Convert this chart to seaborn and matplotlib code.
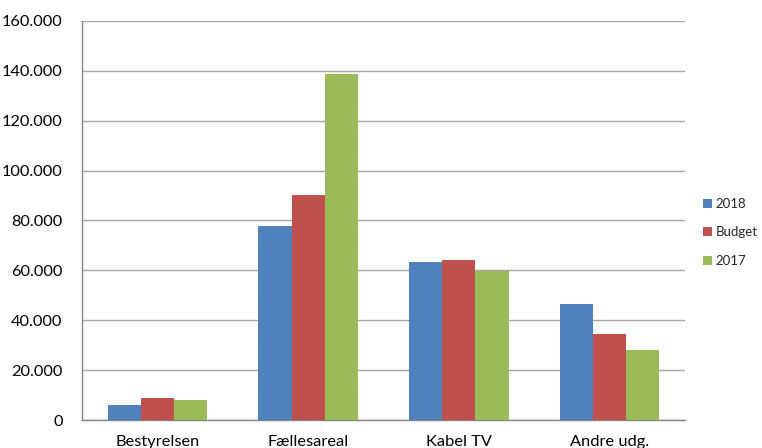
import pandas as pd
import numpy as np
import matplotlib.pyplot as plt
import seaborn as sns
from matplotlib.ticker import FuncFormatter

categories = ['Bestyrelsen', 'Fællesareal', 'Kabel TV', 'Andre udg.']
series = ['2018', 'Budget', '2017']
v2018 = [6000, 77800, 63200, 46500]
budget = [8800, 90100, 64000, 34400]
v2017 = [8000, 138700, 59700, 28100]
colors = ['#4F81BD', '#C0504D', '#9BBB59']

data = pd.DataFrame({
    'kategori': categories * 3,
    'serie': ['2018'] * 4 + ['Budget'] * 4 + ['2017'] * 4,
    'beloeb': v2018 + budget + v2017,
})

sns.set_style('white')
plt.rcParams['font.family'] = ['Lato', 'DejaVu Sans']

fig = plt.figure(figsize=(7.62, 4.48), dpi=100)
ax = fig.add_axes([82 / 762, 28 / 448, 603 / 762, 399 / 448])

sns.barplot(data=data, x='kategori', y='beloeb', hue='serie', hue_order=series,
            palette=colors, width=0.66, saturation=1, linewidth=0, ax=ax, zorder=3)

ax.set_ylim(0, 160000)
ax.set_yticks(np.arange(0, 160001, 20000))
ax.yaxis.set_major_formatter(FuncFormatter(
    lambda v, p: '0' if v == 0 else f'{int(v):,}'.replace(',', '.')))
ax.grid(axis='y', color='#A6A6A6', linewidth=1, zorder=0)
ax.set_xlim(-0.5, 3.5)
ax.set_xlabel('')
ax.set_ylabel('')
for s in ['top', 'right']:
    ax.spines[s].set_visible(False)
for s in ['left', 'bottom']:
    ax.spines[s].set_color('#868686')
    ax.spines[s].set_linewidth(1)
ax.tick_params(axis='y', labelsize=11.8, length=0, pad=14, colors='#000000')
ax.tick_params(axis='x', labelsize=11.8, length=0, pad=11, colors='#000000')

handles, labels = ax.get_legend_handles_labels()
ax.legend(handles, labels, loc='center left', bbox_to_anchor=(1.03, 0.47),
          frameon=False, fontsize=9.5, handlelength=0.7, handleheight=0.7,
          handletextpad=0.25, labelspacing=1.25, borderpad=0, borderaxespad=0)

fig.savefig('out.png', dpi=100)
